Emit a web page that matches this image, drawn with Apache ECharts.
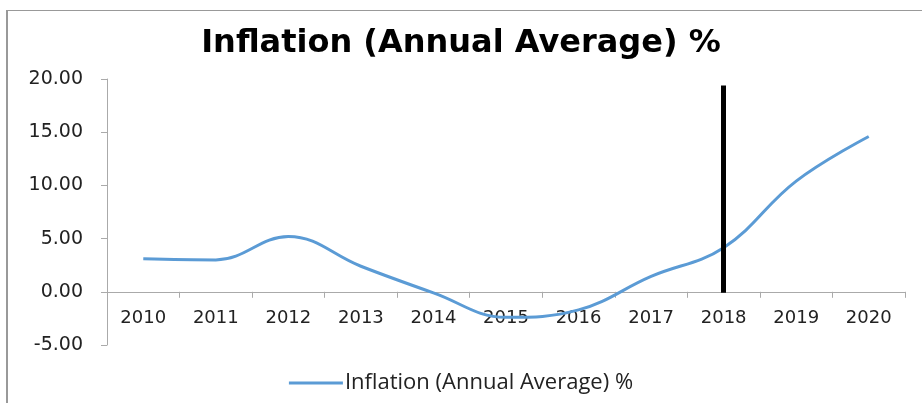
<!DOCTYPE html>
<html>
<head>
<meta charset="utf-8">
<script src="https://cdn.jsdelivr.net/npm/echarts@6/dist/echarts.min.js"></script>
<style>
  body { margin: 0; background: #fff; }
  #chart { width: 922px; height: 403px; }
  #frame {
    position: absolute; left: 6px; top: 10px; right: 0; bottom: 0;
    border-top: 1px solid #999; border-left: 2px solid #999;
    pointer-events: none;
  }
</style>
</head>
<body>
<div id="chart"></div>
<div id="frame"></div>
<script>
  var years = ['2010', '2011', '2012', '2013', '2014', '2015', '2016', '2017', '2018', '2019', '2020']
  var inflation = [3.1, 3.0, 5.2, 2.4, -0.1, -2.4, -1.7, 1.45, 4.15, 10.4, 14.6]
  var seriesName = 'Inflation (Annual Average) %'
  // hand-drawn marker near 2018
  var markerYear = '2018'
  var markerRange = [19.4, -0.1]

  var chart = echarts.init(document.getElementById('chart'))
  chart.setOption({
    animation: false,
    title: {
      text: 'Inflation (Annual Average) %',
      left: 'center',
      top: 23,
      textStyle: { fontFamily: 'DejaVu Sans', fontWeight: 'bold', fontSize: 32, color: '#000' }
    },
    legend: {
      data: [seriesName],
      top: 367,
      left: 'center',
      itemWidth: 54,
      itemHeight: 3,
      itemGap: 2,
      icon: 'rect',
      textStyle: { fontFamily: 'Open Sans', fontSize: 22, color: '#222', padding: [0, 0, 0, -3] }
    },
    grid: { left: 107, right: 17, top: 79, bottom: 58 },
    xAxis: {
      type: 'category',
      data: years,
      boundaryGap: true,
      axisLine: { onZero: true, lineStyle: { color: '#aaa' } },
      axisTick: { show: true, length: 6, lineStyle: { color: '#aaa' } },
      axisLabel: { fontFamily: 'DejaVu Sans', fontSize: 18, color: '#222', margin: -36 }
    },
    yAxis: {
      type: 'value',
      min: -5,
      max: 20,
      interval: 5,
      axisLine: { show: true, lineStyle: { color: '#aaa' } },
      axisTick: { show: true, length: 6, lineStyle: { color: '#aaa' } },
      splitLine: { show: false },
      axisLabel: {
        fontFamily: 'DejaVu Sans', fontSize: 19, color: '#222', margin: 24,
        formatter: function (v) { return v.toFixed(2) }
      }
    },
    series: [
      {
        name: seriesName,
        type: 'line',
        data: inflation,
        smooth: 0.4,
        showSymbol: false,
        lineStyle: { color: '#5B9BD5', width: 3 },
        itemStyle: { color: '#5B9BD5' },
        markLine: {
          silent: true,
          symbol: 'none',
          label: { show: false },
          lineStyle: { color: '#000', width: 5, type: 'solid' },
          data: [[
            { coord: [markerYear, markerRange[0]] },
            { coord: [markerYear, markerRange[1]] }
          ]]
        }
      }
    ]
  })
</script>
</body>
</html>
